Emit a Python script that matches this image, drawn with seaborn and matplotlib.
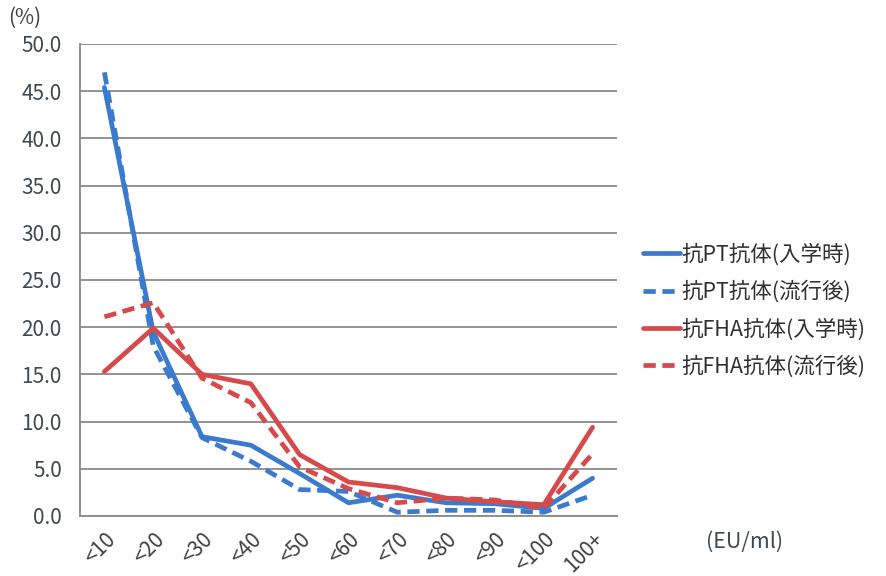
import matplotlib
matplotlib.use("Agg")
import matplotlib.pyplot as plt
import seaborn as sns
import pandas as pd
from matplotlib.ticker import FixedLocator

categories = ["<10", "<20", "<30", "<40", "<50", "<60", "<70", "<80", "<90", "<100", "100+"]
pt_entry = [45.4, 19.5, 8.4, 7.5, 4.5, 1.4, 2.2, 1.4, 1.3, 0.8, 4.0]
pt_after = [47.0, 18.0, 8.3, 5.8, 2.8, 2.6, 0.4, 0.6, 0.6, 0.4, 2.2]
fha_entry = [15.3, 19.9, 15.0, 14.0, 6.5, 3.6, 3.0, 1.9, 1.5, 1.2, 9.4]
fha_after = [21.1, 22.6, 14.6, 12.0, 5.2, 2.9, 1.4, 1.9, 1.7, 0.8, 6.6]

series_names = ["抗PT抗体(入学時)", "抗PT抗体(流行後)", "抗FHA抗体(入学時)", "抗FHA抗体(流行後)"]
series_values = [pt_entry, pt_after, fha_entry, fha_after]
y_ticks = [0, 5, 10, 15, 20, 25, 30, 35, 40, 45, 50]

rows = []
for name, vals in zip(series_names, series_values):
    for i, (c, v) in enumerate(zip(categories, vals)):
        rows.append({"pos": i, "cat": c, "val": v, "series": name})
df = pd.DataFrame(rows)

sns.set_style("white")
plt.rcParams["font.family"] = ["Noto Sans CJK JP", "DejaVu Sans"]

blue = "#3b7bcd"
red = "#d64a4b"
palette = {series_names[0]: blue, series_names[1]: blue,
           series_names[2]: red, series_names[3]: red}
dash_map = {series_names[0]: "", series_names[1]: (2.6, 1.4),
            series_names[2]: "", series_names[3]: (2.6, 1.4)}

fig = plt.figure(figsize=(8.87, 5.76), dpi=100)
ax = fig.add_axes([80 / 887, 1 - 516 / 576, 537 / 887, 472 / 576])

sns.lineplot(data=df, x="pos", y="val", hue="series", style="series",
             palette=palette, dashes=dash_map, linewidth=3.4, sort=False,
             hue_order=series_names, style_order=series_names, ax=ax)

ax.set_xlim(-0.5, len(categories) - 0.5)
ax.set_ylim(0, 50)
ax.set_yticks(y_ticks)
ax.set_yticklabels([f"{t:.1f}" for t in y_ticks])
ax.yaxis.grid(True, color="#8a8a8a", linewidth=1.3)
ax.set_axisbelow(True)

ax.set_xticks(range(len(categories)))
ax.set_xticklabels(categories, rotation=45, ha="right", rotation_mode="anchor")
ax.xaxis.set_minor_locator(FixedLocator([i - 0.5 for i in range(len(categories) + 1)]))
ax.tick_params(axis="x", which="major", length=0, pad=9, labelsize=15, labelcolor="#404040")
ax.tick_params(axis="x", which="minor", length=7, width=1.2, color="#8a8a8a", direction="out")
ax.tick_params(axis="y", length=8, width=1.2, color="#8a8a8a", direction="out",
               labelsize=15, labelcolor="#404850", pad=5)

for s in ["top", "right"]:
    ax.spines[s].set_visible(False)
for s in ["left", "bottom"]:
    ax.spines[s].set_color("#8a8a8a")
    ax.spines[s].set_linewidth(1.3)

ax.set_xlabel("")
ax.set_ylabel("")

handles, labels = ax.get_legend_handles_labels()
if ax.legend_:
    ax.legend_.remove()
fig.legend(handles, labels, loc="upper left", bbox_to_anchor=(624 / 887, 1 - 224 / 576),
           frameon=False, fontsize=15.5, handlelength=1.7, handletextpad=0.05,
           labelspacing=0.69, labelcolor="#303030")

fig.text(8 / 887, 1 - 18 / 576, "(%)", fontsize=15, color="#404040", va="center", ha="left")
fig.text(745 / 887, 1 - 542 / 576, "(EU/ml)", fontsize=15.5, color="#404850", va="center", ha="center")

fig.savefig("out.png", dpi=100)
